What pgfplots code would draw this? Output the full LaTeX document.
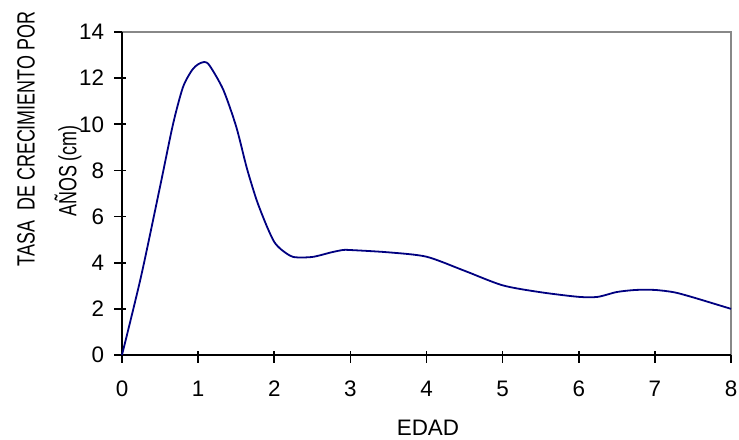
\documentclass[border=0pt]{standalone}
\usepackage{pgfplots}
\pgfplotsset{compat=1.18}
\usepackage{fontspec}
\setmainfont{Liberation Sans}
\newfontfamily\labfont[FakeStretch=0.72]{Liberation Sans}
\definecolor{curve}{RGB}{0,0,128}
\definecolor{frame}{RGB}{136,136,136}
\begin{document}
\begin{tikzpicture}
\useasboundingbox (-122bp,-85bp) rectangle (617bp,355bp);
\begin{axis}[
  scale only axis,
  width=609bp, height=323bp,
  xmin=0, xmax=8, ymin=0, ymax=14,
  xtick={0,1,...,8}, ytick={0,2,...,14},
  xtick pos=bottom, ytick pos=left,
  axis line style={draw=none},
  tick align=center,
  major tick length=11bp,
  tick style={black, line width=1.6bp},
  xtick style={yshift=-2bp},
  ytick style={xshift=-2bp},
  ticklabel style={font=\fontsize{22.5}{24}\selectfont},
  /pgf/number format/assume math mode=true,
  xticklabel style={yshift=-17bp},
  yticklabel style={xshift=-9bp},
  clip=false,
]
% frame: gray top and right, black left and bottom
\draw[frame, line width=2bp] (rel axis cs:0,1) -- (rel axis cs:1,1) -- (rel axis cs:1,0);
\draw[black, line width=2bp] (rel axis cs:0,1) -- (rel axis cs:0,0) -- (rel axis cs:1,0);
\addplot[curve, line width=1.8bp, smooth, tension=0.45] coordinates {
  (0,0) (0.25,3.4) (0.5,7.3) (0.67,10.0) (0.8,11.6) (0.92,12.35) (1.0,12.6)
  (1.08,12.7) (1.15,12.55) (1.33,11.5) (1.5,9.9) (1.64,8.1) (1.77,6.7)
  (1.9,5.6) (2.0,4.9) (2.1,4.55) (2.25,4.25) (2.5,4.25) (2.75,4.45)
  (2.9,4.55) (3.0,4.55) (3.5,4.45) (4.0,4.26) (4.5,3.65) (5.0,3.02)
  (5.5,2.72) (6.0,2.52) (6.25,2.52) (6.5,2.73) (6.75,2.82) (7.0,2.82)
  (7.25,2.72) (7.5,2.5) (8.0,2.0)
};
\end{axis}
\node[font=\fontsize{22.5}{24}\selectfont] at (306bp,-73bp) {EDAD};
\node[rotate=90, font=\labfont\fontsize{25}{27}\selectfont] at (-96bp,216bp) {TASA\ \ DE CRECIMIENTO POR};
\node[rotate=90, font=\labfont\fontsize{25}{27}\selectfont] at (-54bp,184bp) {AÑOS (cm)};
\end{tikzpicture}
\end{document}
